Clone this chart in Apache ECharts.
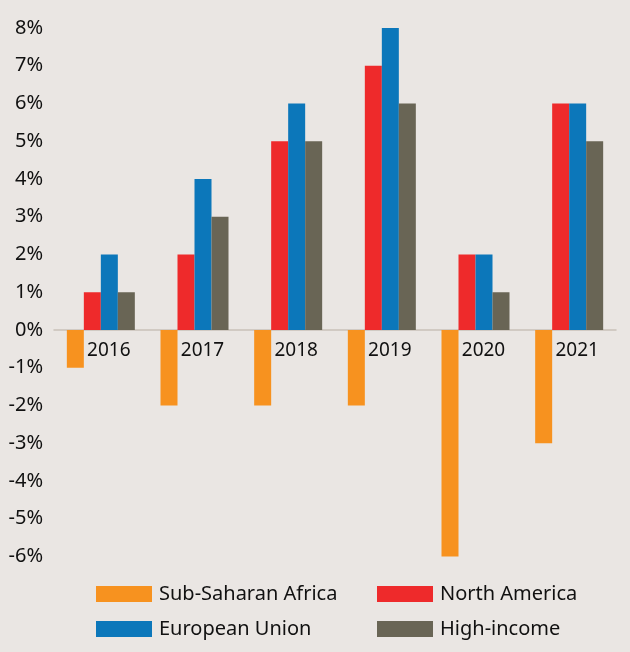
<!DOCTYPE html>
<html>
<head>
<meta charset="utf-8">
<script src="https://cdn.jsdelivr.net/npm/echarts@6/dist/echarts.min.js"></script>
<style>
  html, body { margin: 0; padding: 0; background: #eae6e3; }
  #chart { width: 630px; height: 652px; }
</style>
</head>
<body>
<div id="chart"></div>
<script>
const years = ['2016', '2017', '2018', '2019', '2020', '2021']
const subSaharan = [-1, -2, -2, -2, -6, -3]
const northAmerica = [1, 2, 5, 7, 2, 6]
const europeanUnion = [2, 4, 6, 8, 2, 6]
const highIncome = [1, 3, 5, 6, 1, 5]

const font = 'Noto Sans'

const bar = (name, data, color) => ({
  name,
  type: 'bar',
  data,
  barWidth: 17,
  barGap: 0,
  itemStyle: { color },
  emphasis: { disabled: true }
})

const legendBase = {
  orient: 'vertical',
  top: 584,
  padding: 0,
  itemWidth: 56,
  itemHeight: 16,
  itemGap: 15,
  icon: 'rect',
  textStyle: { color: '#111', fontSize: 20, fontFamily: font, padding: [0, 0, 0, 2] }
}

const chart = echarts.init(document.getElementById('chart'))
chart.setOption({
  backgroundColor: '#eae6e3',
  animation: false,
  textStyle: { fontFamily: font },
  grid: { left: 54, right: 14, top: 28, bottom: 95.5 },
  xAxis: [
    {
      type: 'category',
      data: years,
      axisLine: { onZero: true, lineStyle: { color: '#c9c1b9', width: 1.5 } },
      axisTick: { show: false },
      axisLabel: { show: false }
    },
    {
      // labels sit just under the zero line
      type: 'category',
      data: years,
      position: 'bottom',
      offset: -226.5,
      axisLine: { show: false },
      axisTick: { show: false },
      axisLabel: {
        color: '#111',
        fontSize: 19,
        fontFamily: font,
        margin: 11,
        padding: [0, 0, 0, 16]
      }
    }
  ],
  yAxis: {
    type: 'value',
    min: -6,
    max: 8,
    interval: 1,
    splitLine: { show: false },
    axisLine: { show: false },
    axisTick: { show: false },
    axisLabel: {
      color: '#111',
      fontSize: 20,
      fontFamily: font,
      margin: 11,
      padding: [0, 0, 7, 0],
      formatter: v => v + '%'
    }
  },
  legend: [
    { ...legendBase, left: 96, data: ['Sub-Saharan Africa', 'European Union'] },
    { ...legendBase, left: 377, data: ['North America', 'High-income'] }
  ],
  series: [
    bar('Sub-Saharan Africa', subSaharan, '#f7921f'),
    bar('North America', northAmerica, '#ee2a2b'),
    bar('European Union', europeanUnion, '#0c77ba'),
    bar('High-income', highIncome, '#696555')
  ]
})
</script>
</body>
</html>
